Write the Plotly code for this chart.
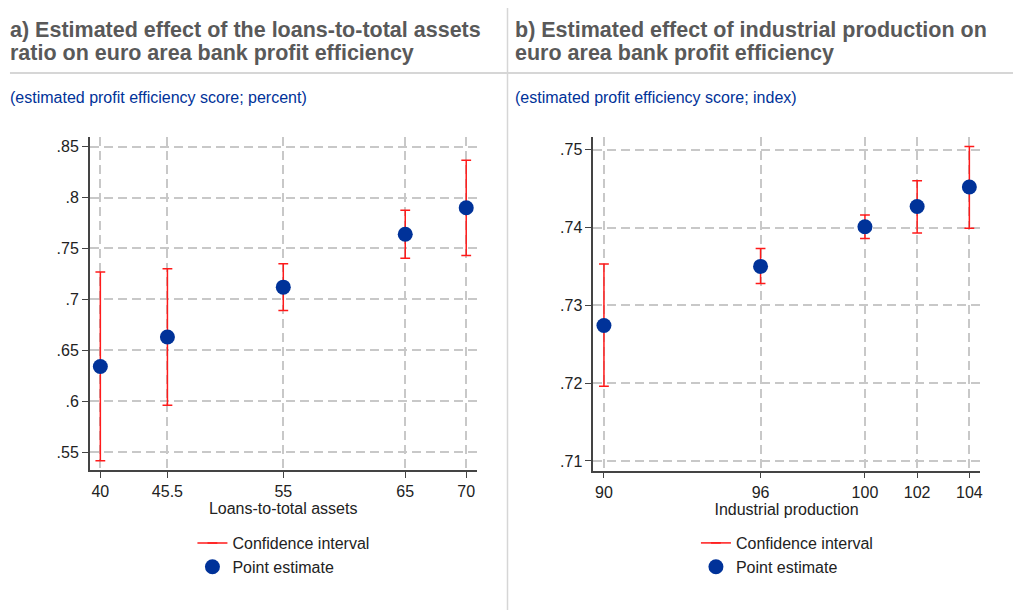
import plotly.graph_objects as go

# panel a: loans-to-total assets
loans_x = [40, 45.5, 55, 65, 70]
loans_est = [0.634, 0.663, 0.712, 0.764, 0.790]
loans_lo = [0.5415, 0.596, 0.689, 0.7405, 0.743]
loans_hi = [0.727, 0.730, 0.735, 0.7876, 0.8367]
loans_yticks = [0.55, 0.6, 0.65, 0.7, 0.75, 0.8, 0.85]
loans_ylabels = [".55", ".6", ".65", ".7", ".75", ".8", ".85"]

# panel b: industrial production
ip_x = [90, 96, 100, 102, 104]
ip_est = [0.7274, 0.7350, 0.7401, 0.7427, 0.7452]
ip_lo = [0.7196, 0.7328, 0.7386, 0.7393, 0.7399]
ip_hi = [0.7353, 0.7373, 0.7416, 0.7460, 0.7504]
ip_yticks = [0.71, 0.72, 0.73, 0.74, 0.75]
ip_ylabels = [".71", ".72", ".73", ".74", ".75"]

W, H = 1016, 610
RED = "#ff1a1a"
BLUE = "#003299"
GREY_TXT = "#595959"


def px_x(v):
    return v / W


def px_y(v):
    return 1 - v / H


def ci_segments(xs, lo, hi):
    cx, cy = [], []
    for x, a, b in zip(xs, lo, hi):
        cx += [x, x, None]
        cy += [a, b, None]
    return cx, cy


fig = go.Figure()

panels = [
    dict(x=loans_x, est=loans_est, lo=loans_lo, hi=loans_hi, xa="x", ya="y", leg="legend"),
    dict(x=ip_x, est=ip_est, lo=ip_lo, hi=ip_hi, xa="x2", ya="y2", leg="legend2"),
]
for p in panels:
    cx, cy = ci_segments(p["x"], p["lo"], p["hi"])
    fig.add_trace(go.Scatter(
        x=cx, y=cy, mode="lines+markers", name="Confidence interval",
        line=dict(color=RED, width=1.5),
        marker=dict(symbol="line-ew-open", size=7, color=RED, line=dict(color=RED, width=1.5)),
        xaxis=p["xa"], yaxis=p["ya"], legend=p["leg"], hoverinfo="skip",
    ))
    fig.add_trace(go.Scatter(
        x=p["x"], y=p["est"], mode="markers", name="Point estimate",
        marker=dict(size=15, color=BLUE),
        xaxis=p["xa"], yaxis=p["ya"], legend=p["leg"],
    ))

axis_common = dict(
    showline=True, linecolor="#444", linewidth=1.5,
    ticks="outside", ticklen=6, tickcolor="#444", tickwidth=1.2,
    showgrid=True, gridcolor="#c8c8c8", griddash="9px,5px", gridwidth=1.5,
    zeroline=False, tickfont=dict(size=16, color="#222"),
)
legend_common = dict(xanchor="left", yanchor="top", font=dict(size=16, color="#222"),
                     tracegroupgap=0, itemwidth=30, bgcolor="rgba(0,0,0,0)")

fig.update_layout(
    width=W, height=H,
    margin=dict(l=0, r=0, t=0, b=0),
    paper_bgcolor="white", plot_bgcolor="white",
    font=dict(family="Arial", color="#222"),
    xaxis=dict(axis_common, domain=[px_x(90), px_x(478)], range=[39.13, 70.85],
               tickvals=loans_x, ticktext=["40", "45.5", "55", "65", "70"],
               title=dict(text="Loans-to-total assets", font=dict(size=16, color="#222"), standoff=4),
               anchor="y"),
    yaxis=dict(axis_common, domain=[px_y(470), px_y(137)], range=[0.5324, 0.8595],
               tickvals=loans_yticks, ticktext=loans_ylabels, anchor="x"),
    xaxis2=dict(axis_common, domain=[px_x(595), px_x(982.7)], range=[89.59, 104.4],
                tickvals=ip_x, ticktext=[str(v) for v in ip_x],
                title=dict(text="Industrial production", font=dict(size=16, color="#222"), standoff=4),
                anchor="y2"),
    yaxis2=dict(axis_common, domain=[px_y(470.7), px_y(137)], range=[0.70875, 0.75163],
                tickvals=ip_yticks, ticktext=ip_ylabels, anchor="x2"),
    legend=dict(legend_common, x=px_x(193), y=px_y(526)),
    legend2=dict(legend_common, x=px_x(698), y=px_y(526)),
    showlegend=True,
)

titles = [
    (10, ["a) Estimated effect of the loans-to-total assets",
          "ratio on euro area bank profit efficiency"],
     "(estimated profit efficiency score; percent)"),
    (517, ["b) Estimated effect of industrial production on",
           "euro area bank profit efficiency"],
     "(estimated profit efficiency score; index)"),
]
for x0, lines, sub in titles:
    for yy, t in zip([30, 53], lines):
        fig.add_annotation(x=px_x(x0), y=px_y(yy), xref="paper", yref="paper",
                           xanchor="left", yanchor="middle", xshift=-2,
                           text=t, showarrow=False, align="left",
                           font=dict(size=21.5, color=GREY_TXT, family="Arial", weight="bold"))
    fig.add_annotation(x=px_x(x0), y=px_y(97), xref="paper", yref="paper", xanchor="left", yanchor="middle",
                       text=sub, showarrow=False, align="left", xshift=-2,
                       font=dict(size=16, color=BLUE, family="Arial"))

fig.add_shape(type="line", xref="paper", yref="paper", x0=px_x(10), x1=1, y0=px_y(73), y1=px_y(73),
              line=dict(color="#d6d6d6", width=2))
fig.add_shape(type="line", xref="paper", yref="paper", x0=px_x(509), x1=px_x(509), y0=px_y(8), y1=0,
              line=dict(color="#d6d6d6", width=1.5))

fig.write_html("out.html", config={"displayModeBar": False},
               post_script="document.body.style.margin='0';")
